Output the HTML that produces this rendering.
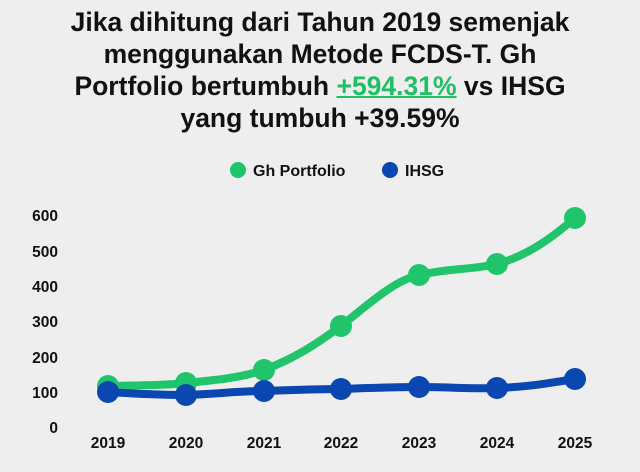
<!DOCTYPE html>
<html><head><style>
body{margin:0;width:640px;height:472px;background:#eeeeee;font-family:"Liberation Sans",sans-serif;overflow:hidden}
.t{position:absolute;left:0;width:640px;text-align:center;font-weight:bold;font-size:26.5px;line-height:32px;top:6px;color:#111}
.t u{color:#1fbf63;text-decoration-thickness:2px}
</style></head><body>
<div class="t">Jika dihitung dari Tahun 2019 semenjak<br>menggunakan Metode FCDS-T. Gh<br>Portfolio bertumbuh <u>+594.31%</u> vs IHSG<br>yang tumbuh +39.59%</div>
<svg width="640" height="472" style="position:absolute;left:0;top:0" font-family="Liberation Sans, sans-serif" font-weight="bold">
<circle cx="238" cy="170" r="8" fill="#20c46a"/>
<text x="253" y="176" font-size="16" fill="#111">Gh Portfolio</text>
<circle cx="390" cy="170" r="8" fill="#0a47b0"/>
<text x="405" y="176" font-size="16" fill="#111">IHSG</text>
<g font-size="15.5" fill="#111" text-anchor="end">
<text x="58" y="221">600</text><text x="58" y="257">500</text><text x="58" y="292">400</text><text x="58" y="327">300</text><text x="58" y="363">200</text><text x="58" y="398">100</text><text x="58" y="433">0</text>
</g>
<g font-size="15.5" fill="#111" text-anchor="middle">
<text x="108" y="448">2019</text><text x="186" y="448">2020</text><text x="264" y="448">2021</text><text x="341" y="448">2022</text><text x="419" y="448">2023</text><text x="497" y="448">2024</text><text x="575" y="448">2025</text>
</g>
<path d="M108,386 C140,385 160,386 186,383 C215,380 240,378 264,370 C295,358 315,345 341,326 C370,303 395,280 419,275 C450,268 470,270 497,264 C530,255 555,235 575,218" fill="none" stroke="#20c46a" stroke-width="8" stroke-linecap="round"/>
<g fill="#20c46a"><circle cx="108" cy="386" r="11"/><circle cx="186" cy="383" r="11"/><circle cx="264" cy="370" r="11"/><circle cx="341" cy="326" r="11"/><circle cx="419" cy="275" r="11"/><circle cx="497" cy="264" r="11"/><circle cx="575" cy="218" r="11"/></g>
<path d="M108,392 C140,394 160,395 186,395 C215,394 240,391 264,391 C295,390 315,389 341,389 C370,388 395,387 419,387 C450,387 470,389 497,388 C530,387 555,382 575,379" fill="none" stroke="#0a47b0" stroke-width="8" stroke-linecap="round"/>
<g fill="#0a47b0"><circle cx="108" cy="392" r="11"/><circle cx="186" cy="395" r="11"/><circle cx="264" cy="391" r="11"/><circle cx="341" cy="389" r="11"/><circle cx="419" cy="387" r="11"/><circle cx="497" cy="388" r="11"/><circle cx="575" cy="379" r="11"/></g>
</svg>
</body></html>
